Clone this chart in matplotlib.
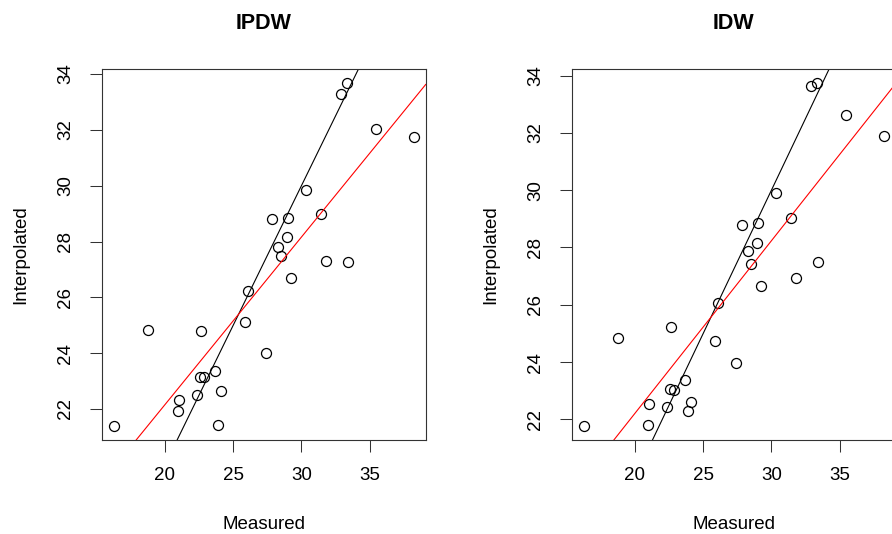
import matplotlib
matplotlib.use("Agg")
import matplotlib.pyplot as plt
import numpy as np

plt.rcParams['font.family'] = ['Liberation Sans', 'DejaVu Sans']

# measured values (same for both panels)
measured = [16.24, 18.75, 21.00, 20.97, 22.36, 22.53, 22.86, 22.65, 23.68, 24.14,
            23.90, 25.85, 26.06, 27.43, 27.84, 28.31, 28.48, 28.95, 29.02, 29.24,
            30.33, 31.41, 31.80, 33.43, 32.88, 33.36, 35.46, 38.23]

# interpolated values
ipdw = [21.38, 24.84, 22.31, 21.92, 22.49, 23.15, 23.13, 24.81, 23.37, 22.64,
        21.43, 25.12, 26.21, 24.01, 28.79, 27.81, 27.49, 28.17, 28.83, 26.68,
        29.86, 28.99, 27.30, 27.27, 33.30, 33.68, 32.02, 31.75]
idw = [21.76, 24.84, 22.53, 21.81, 22.44, 23.07, 23.03, 25.21, 23.36, 22.61,
       22.29, 24.72, 26.06, 23.98, 28.78, 27.87, 27.42, 28.17, 28.86, 26.64,
       29.91, 29.04, 26.95, 27.49, 33.63, 33.74, 32.62, 31.88]

titles = ["IPDW", "IDW"]
xticks = [20, 25, 30, 35]
yticks = [22, 24, 26, 28, 30, 32, 34]


def rlim(v):
    # R style 4% padding
    lo, hi = min(v), max(v)
    d = (hi - lo) * 0.04
    return lo - d, hi + d


W, H = 892, 534
fig = plt.figure(figsize=(W / 100, H / 100), dpi=100)

lefts = [101.7, 571.7]
for i, yvals in enumerate([ipdw, idw]):
    ax = fig.add_axes([lefts[i] / W, (H - 440) / H, 324 / W, 370.7 / H])
    x = np.array(measured)
    y = np.array(yvals)
    ax.plot(x, y, 'o', mfc='none', mec='black', ms=7.2, mew=0.9)
    # 1:1 line and fitted line
    ax.axline((0, 0), slope=1, color='black', lw=0.8)
    m, b = np.polyfit(x, y, 1)
    ax.axline((0, b), slope=m, color='red', lw=0.8)
    ax.set_xlim(rlim(measured))
    ax.set_ylim(rlim(yvals))
    ax.set_xticks(xticks)
    ax.set_yticks(yticks)
    ax.tick_params(direction='out', length=8.6, width=0.75, labelsize=13.5, pad=11, color='#333333')
    plt.setp(ax.get_yticklabels(), rotation=90, va='center')
    for s in ax.spines.values():
        s.set_linewidth(0.8)
        s.set_color('#333333')
    ax.set_title(titles[i], fontsize=15.5, fontweight='bold', pad=29)
    ax.set_xlabel("Measured", fontsize=13.5, labelpad=23)
    ax.set_ylabel("Interpolated", fontsize=13.5, labelpad=20)

fig.savefig("out.png", dpi=100)
